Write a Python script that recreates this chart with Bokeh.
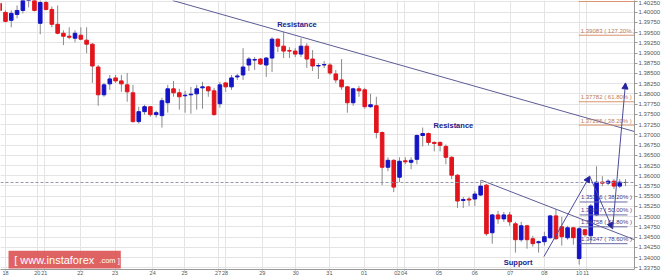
from bokeh.plotting import figure
from bokeh.models import (ColumnDataSource, FixedTicker, SingleIntervalTicker,
                          NumeralTickFormatter, Span, Label, Arrow, NormalHead,
                          BoxAnnotation, Range1d)
from bokeh.core.properties import value
from bokeh.embed import file_html
from bokeh.resources import INLINE

# ---------------- data (4-hour candles, slot index) ----------------
slot = list(range(-1, 108))
opens = [1.40211, 1.39993, 1.39799, 1.39944, 1.40041, 1.40330, 1.40340, 1.39726, 1.40235, 1.40066,
         1.39702, 1.39483, 1.39411, 1.39362, 1.39435, 1.39314, 1.39216, 1.38658, 1.37979, 1.38246,
         1.38392, 1.38319, 1.38222, 1.38028, 1.37324, 1.37567, 1.37688, 1.37494, 1.37470, 1.37785,
         1.38125, 1.38028, 1.37955, 1.37979, 1.38003, 1.38149, 1.38173, 1.38076, 1.37761, 1.38270,
         1.38173, 1.38416, 1.38464, 1.38707, 1.38828, 1.38853, 1.38707, 1.38877, 1.39338, 1.39168,
         1.39059, 1.39047, 1.38974, 1.39168, 1.38853, 1.38683, 1.38707, 1.38707, 1.38489, 1.38343,
         1.38173, 1.37785, 1.38125, 1.38100, 1.37688, 1.37712, 1.37057, 1.36208, 1.36378, 1.35965,
         1.36366, 1.36329, 1.36402, 1.36984, 1.37033, 1.36815, 1.36815, 1.36717, 1.36451, 1.36014,
         1.35395, 1.35432, 1.35432, 1.35529, 1.35771, 1.34607, 1.35043, 1.34946, 1.35043, 1.34825,
         1.34437, 1.34777, 1.34461, 1.34364, 1.34388, 1.34485, 1.35019, 1.34752, 1.34485, 1.34728,
         1.33976, 1.34680, 1.34534, 1.35043, 1.35844, 1.35820, 1.35868, 1.35747, 1.35836]
highs = [1.40300, 1.40041, 1.40041, 1.40163, 1.40420, 1.40600, 1.40420, 1.40300, 1.40284, 1.40138,
         1.40163, 1.39556, 1.39629, 1.39556, 1.39629, 1.39629, 1.39241, 1.38707, 1.38270, 1.38464,
         1.38464, 1.38464, 1.38513, 1.38222, 1.37688, 1.37736, 1.37700, 1.37591, 1.37906, 1.38222,
         1.38319, 1.38125, 1.38076, 1.38173, 1.38222, 1.38295, 1.38197, 1.38149, 1.38295, 1.38295,
         1.38464, 1.38489, 1.39119, 1.38901, 1.38901, 1.38877, 1.38901, 1.39386, 1.39362, 1.39508,
         1.39144, 1.39119, 1.39362, 1.39241, 1.39071, 1.38755, 1.38804, 1.38755, 1.38586, 1.38853,
         1.38197, 1.38149, 1.38197, 1.38149, 1.38003, 1.37931, 1.37081, 1.36451, 1.36402, 1.36451,
         1.36451, 1.36451, 1.37009, 1.37178, 1.37057, 1.36839, 1.36839, 1.36766, 1.36475, 1.36038,
         1.35480, 1.35480, 1.35626, 1.35893, 1.35796, 1.35067, 1.35140, 1.35116, 1.35116, 1.34874,
         1.34874, 1.34801, 1.34534, 1.34413, 1.34631, 1.35043, 1.35189, 1.34995, 1.34777, 1.34752,
         1.34752, 1.34704, 1.35310, 1.36232, 1.35990, 1.35917, 1.35917, 1.35917, 1.35917]
lows = [1.39993, 1.39750, 1.39629, 1.39847, 1.39969, 1.40114, 1.40017, 1.39459, 1.40041, 1.39629,
        1.39459, 1.39192, 1.39338, 1.39265, 1.39314, 1.38998, 1.38270, 1.37712, 1.37931, 1.38100,
        1.38270, 1.38052, 1.37809, 1.37300, 1.37276, 1.37494, 1.37445, 1.37421, 1.37178, 1.37542,
        1.37931, 1.37615, 1.37542, 1.37518, 1.37615, 1.37639, 1.37931, 1.37470, 1.37664, 1.38052,
        1.38100, 1.38343, 1.38343, 1.38561, 1.38586, 1.38707, 1.38416, 1.38537, 1.39022, 1.38877,
        1.38877, 1.38901, 1.38901, 1.38634, 1.38561, 1.38367, 1.38634, 1.38464, 1.38270, 1.38100,
        1.37542, 1.37712, 1.37931, 1.37639, 1.37664, 1.36912, 1.35771, 1.36111, 1.35601, 1.35844,
        1.36281, 1.36159, 1.36281, 1.36717, 1.36742, 1.36596, 1.36596, 1.36281, 1.35917, 1.35213,
        1.35213, 1.35262, 1.35262, 1.35504, 1.34534, 1.34340, 1.34825, 1.34874, 1.34777, 1.34121,
        1.34388, 1.34218, 1.34267, 1.34121, 1.34291, 1.34461, 1.34437, 1.34291, 1.34437, 1.34316,
        1.33830, 1.34510, 1.34340, 1.35019, 1.35747, 1.35771, 1.35674, 1.35698, 1.35747]
closes = [1.40041, 1.39774, 1.39969, 1.40041, 1.40360, 1.40550, 1.40041, 1.40235, 1.40066, 1.39702,
          1.39483, 1.39411, 1.39386, 1.39483, 1.39338, 1.39216, 1.38683, 1.37979, 1.38222, 1.38367,
          1.38319, 1.38246, 1.38052, 1.37324, 1.37567, 1.37688, 1.37494, 1.37542, 1.37834, 1.38125,
          1.38028, 1.37931, 1.37970, 1.37995, 1.38125, 1.38173, 1.38076, 1.37494, 1.38222, 1.38173,
          1.38392, 1.38440, 1.38658, 1.38853, 1.38840, 1.38731, 1.38877, 1.39338, 1.39168, 1.39047,
          1.39047, 1.38974, 1.39168, 1.38853, 1.38683, 1.38695, 1.38719, 1.38513, 1.38343, 1.38173,
          1.37785, 1.38125, 1.38076, 1.37688, 1.37736, 1.37057, 1.36208, 1.36378, 1.35723, 1.36354,
          1.36341, 1.36378, 1.36984, 1.37033, 1.36815, 1.36790, 1.36742, 1.36451, 1.36014, 1.35383,
          1.35419, 1.35407, 1.35553, 1.35747, 1.34582, 1.35043, 1.34946, 1.35043, 1.34874, 1.34437,
          1.34777, 1.34437, 1.34340, 1.34388, 1.34510, 1.35019, 1.34461, 1.34510, 1.34728, 1.34485,
          1.34704, 1.34558, 1.35262, 1.35844, 1.35820, 1.35868, 1.35747, 1.35844, 1.35836]

day_ticks = [0, 5.5, 6.7, 12.9, 18.9, 25.4, 30.9, 36.7, 37.9, 44.3, 50.1, 55.9,
             61.9, 67.6, 68.8, 74.8, 81.0, 87.1, 93.0, 99.0, 100.2]
day_labels = ["18", "20", "21", "22", "23", "24", "25", "27", "28", "29", "30", "31",
              "01", "02", "04", "05", "06", "07", "08", "10", "11"]

current_price = 1.35836

res_line_x = [28.86, 108.55]
res_line_y = [1.40284, 1.37081]
sup_line_x = [82.1, 108.55]
sup_line_y = [1.35892, 1.34437]
wave_x = [92.92, 100.82, 104.77, 107.0]
wave_y = [1.34024, 1.35989, 1.34704, 1.38270]

fib_up_levels = [1.40260, 1.39435, 1.37809, 1.37239]
fib_up_texts = ["", "1.39083 ( 127.20% )", "1.37782 ( 61.80% )", "1.37295 ( 38.20% )"]
fib_up_span = [98.93, 108.55]
fib_dn_levels = [1.35359, 1.35043, 1.34752, 1.34340]
fib_dn_texts = ["1.35336 ( 38.20% )", "1.35047 ( 50.00% )", "1.34758 ( 61.80% )", "1.34347 ( 78.60% )"]
fib_dn_span = [99.1, 107.35]

notes_text = ["Resistance", "Resistance", "Support"]
notes_x = [50.3, 77.3, 88.46]
notes_y = [1.39702, 1.37227, 1.33878]

# ---------------- figure ----------------
RED = "#e2141c"
BLUE = "#1414c6"
FONT = "Liberation Sans"

p = figure(width=663, height=277, x_range=Range1d(-0.86, 108.55),
           y_range=Range1d(1.337088, 1.402839), output_backend="svg",
           toolbar_location=None, y_axis_location="right",
           min_border_left=0, min_border_top=0, min_border_right=0, min_border_bottom=0)
p.outline_line_color = None
p.background_fill_color = "white"
p.border_fill_color = "white"

# axes
p.xaxis.ticker = FixedTicker(ticks=day_ticks)
p.xaxis.major_label_overrides = {float(t): l for t, l in zip(day_ticks, day_labels)}
p.xaxis.major_label_text_font_size = "5.5px"
p.xaxis.major_label_text_font = FONT
p.xaxis.major_label_text_color = "#555555"
p.xaxis.major_label_standoff = 0
p.xaxis.major_tick_out = 1
p.xaxis.major_tick_in = 0
p.xaxis.minor_tick_line_color = None
p.xaxis.axis_line_color = "#999999"
p.xaxis.major_tick_line_color = "#999999"

p.yaxis.ticker = SingleIntervalTicker(interval=0.0025, num_minor_ticks=0)
p.yaxis.formatter = NumeralTickFormatter(format="0.00000")
p.yaxis.major_label_text_font_size = "6px"
p.yaxis.major_label_text_font = FONT
p.yaxis.major_label_text_color = "#555555"
p.yaxis.major_label_standoff = 1
p.yaxis.major_tick_out = 3
p.yaxis.major_tick_in = 0
p.yaxis.axis_line_color = "#999999"
p.yaxis.major_tick_line_color = "#999999"

p.xgrid.grid_line_color = "#e4e4e4"
p.ygrid.grid_line_color = "#e4e4e4"

# current price line
p.add_layout(Span(location=current_price, dimension="width", line_color="#9494ac",
                  line_dash="3 2", line_width=1))

# candles
body_top = [max(o, c) for o, c in zip(opens, closes)]
body_bot = [min(o, c) for o, c in zip(opens, closes)]
colors = [RED if c < o else (BLUE if c > o else "#555555") for o, c in zip(opens, closes)]
src = ColumnDataSource(dict(x=slot, o=opens, h=highs, l=lows, c=closes,
                            top=body_top, bot=body_bot, col=colors))
p.segment(x0="x", y0="l", x1="x", y1="h", source=src, line_color="#8a8a8a", line_width=1)
p.vbar(x="x", width=0.62, top="top", bottom="bot", source=src,
       fill_color="col", line_color="col", line_width=1)

# trend lines
p.line(res_line_x, res_line_y, line_color="#5c5c96", line_width=1)
p.line(sup_line_x, sup_line_y, line_color="#5c5c96", line_width=1)

# zigzag projection with arrows
for i in range(len(wave_x) - 1):
    p.add_layout(Arrow(end=NormalHead(size=6, fill_color="#2424a0", line_color="#2424a0"),
                       x_start=wave_x[i], y_start=wave_y[i], x_end=wave_x[i + 1], y_end=wave_y[i + 1],
                       line_color="#4a4a9c", line_width=1))

# fibonacci levels
p.segment(x0=[fib_up_span[0]] * len(fib_up_levels), y0=fib_up_levels,
          x1=[fib_up_span[1]] * len(fib_up_levels), y1=fib_up_levels,
          line_color="#d9946c", line_width=1)
p.text(x=[fib_up_span[0] + 0.35] * len(fib_up_levels), y=fib_up_levels, text=fib_up_texts,
       text_font=value(FONT), text_font_size="6px", text_color="#c07a52",
       text_baseline="bottom", text_align="left", y_offset=-1.5)
p.segment(x0=[fib_dn_span[0]] * len(fib_dn_levels), y0=fib_dn_levels,
          x1=[fib_dn_span[1]] * len(fib_dn_levels), y1=fib_dn_levels,
          line_color="#6a6aa8", line_width=1)
p.text(x=[fib_dn_span[0] + 0.2] * len(fib_dn_levels), y=fib_dn_levels, text=fib_dn_texts,
       text_font=value(FONT), text_font_size="6px", text_color="#3c3c8c",
       text_baseline="bottom", text_align="left", y_offset=-1.5)

# notes
p.text(x=notes_x, y=notes_y, text=notes_text, text_font=value(FONT),
       text_font_size="7.5px", text_font_style="bold", text_color="#20208a",
       text_align="center", text_baseline="middle")

# current price tag on the axis
p.add_layout(Label(x=108.75, y=current_price, text="1.35836", text_font=FONT,
                   text_font_size="6px", text_color="#7a5a5a", text_baseline="middle",
                   background_fill_color="white", border_line_color="#e08a8a",
                   padding=1))

# watermark
p.add_layout(BoxAnnotation(left=0.52, right=19.9, bottom=1.33733, top=1.34170,
                           fill_color="#dc5252", fill_alpha=0.9, line_color=None))
p.add_layout(Label(x=1.5, y=1.33951, text="[  www.instaforex", text_font=FONT,
                   text_font_size="11px", text_color="white", text_baseline="middle"))
p.add_layout(Label(x=16.2, y=1.33940, text=".com ]", text_font=FONT,
                   text_font_size="7.5px", text_color="white", text_baseline="middle"))

open("out.html", "w").write(file_html(p, INLINE))
